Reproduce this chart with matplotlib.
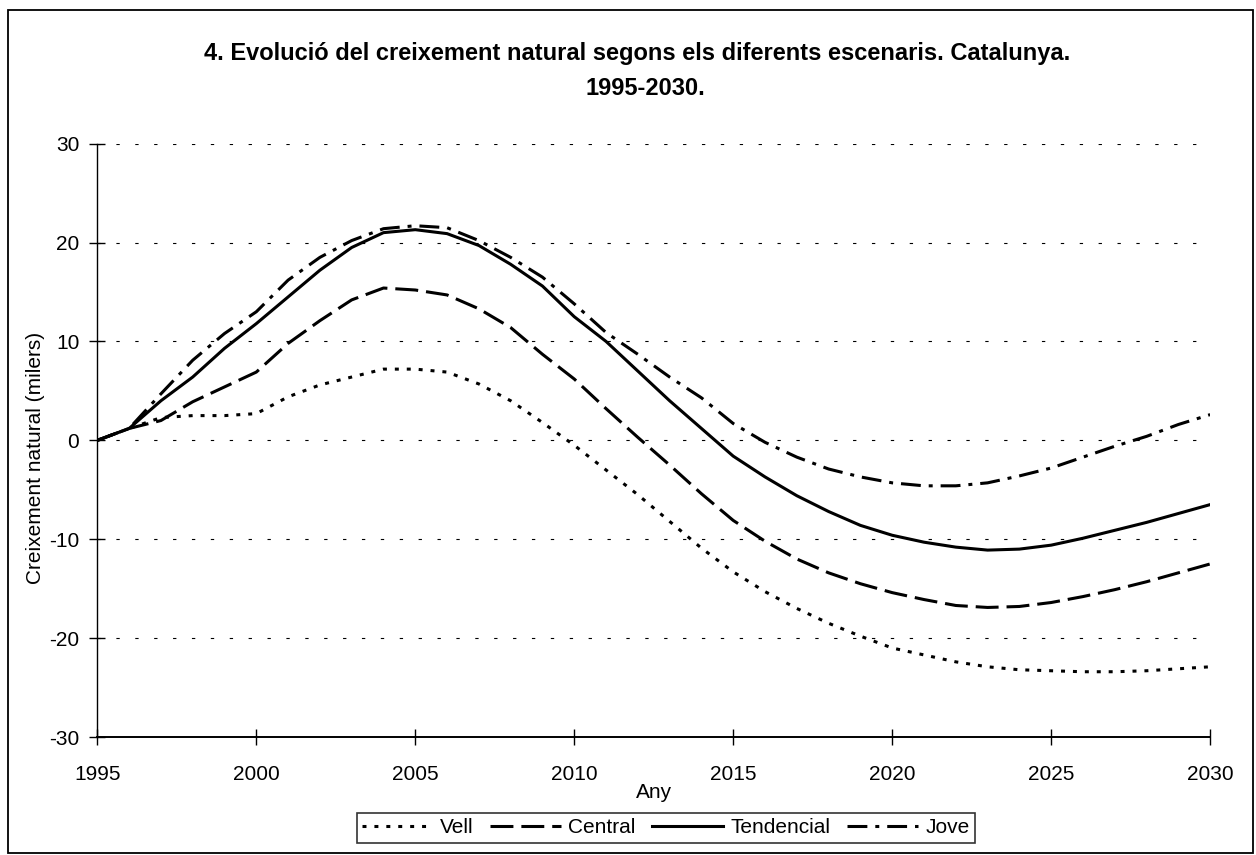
import numpy as np
import matplotlib
matplotlib.use("Agg")
import matplotlib.pyplot as plt
from matplotlib.patches import Rectangle

plt.rcParams['font.family'] = ['Liberation Sans', 'DejaVu Sans']
plt.rcParams['axes.unicode_minus'] = False

years = list(range(1995, 2031))

vell = [0, 1.2, 2.3, 2.5, 2.5, 2.7, 4.4, 5.6, 6.4, 7.2, 7.2, 6.9, 5.7, 4.0, 1.8,
        -0.5, -3.0, -5.5, -8.2, -10.9, -13.3, -15.3, -17.0, -18.5, -19.8, -21.0,
        -21.7, -22.4, -22.9, -23.2, -23.3, -23.4, -23.4, -23.3, -23.1, -22.9]
central = [0, 1.2, 2.0, 3.9, 5.4, 6.9, 9.8, 12.1, 14.2, 15.4, 15.2, 14.7, 13.3, 11.4, 8.7,
           6.2, 3.2, 0.3, -2.5, -5.4, -8.1, -10.2, -12.0, -13.4, -14.5, -15.4,
           -16.1, -16.7, -16.9, -16.8, -16.4, -15.8, -15.1, -14.3, -13.4, -12.5]
tendencial = [0, 1.2, 4.0, 6.4, 9.3, 11.8, 14.5, 17.2, 19.5, 21.0, 21.3, 20.9, 19.7, 17.8, 15.6,
              12.5, 10.0, 7.0, 4.0, 1.2, -1.6, -3.7, -5.6, -7.2, -8.6, -9.6,
              -10.3, -10.8, -11.1, -11.0, -10.6, -9.9, -9.1, -8.3, -7.4, -6.5]
jove = [0, 1.2, 4.7, 8.1, 10.8, 13.0, 16.2, 18.5, 20.2, 21.4, 21.7, 21.5, 20.2, 18.5, 16.5,
        13.8, 10.9, 8.7, 6.4, 4.3, 1.7, -0.2, -1.7, -2.9, -3.7, -4.3,
        -4.6, -4.6, -4.3, -3.6, -2.8, -1.7, -0.6, 0.4, 1.6, 2.6]

labels = ["Vell", "Central", "Tendencial", "Jove"]

fig = plt.figure(figsize=(12.56, 8.55), dpi=100)
ax = fig.add_axes([0.0775, 0.138, 0.886, 0.694])

# outer frame round the whole chart
fig.patches.append(Rectangle((0.0064, 0.0025), 0.9912, 0.9855, transform=fig.transFigure,
                             fill=False, edgecolor='black', linewidth=1.3))

lw = 2.2
ax.plot(years, vell, color='black', lw=lw, linestyle=(0, (1.3, 2.6)), label=labels[0])
ax.plot(years, central, color='black', lw=lw, linestyle=(0, (7.5, 2.6)), label=labels[1])
ax.plot(years, tendencial, color='black', lw=lw, linestyle='-', label=labels[2])
ax.plot(years, jove, color='black', lw=lw, linestyle=(0, (6.5, 2.6, 1.3, 2.6)), label=labels[3])

ax.set_xlim(1995, 2030)
ax.set_ylim(-30, 30)
ax.set_xticks(range(1995, 2031, 5))
ax.set_yticks(range(-30, 31, 10))

# dotted horizontal grid
for y in range(-20, 31, 10):
    ax.axhline(y, color='black', lw=0.8, linestyle=(0, (3, 14)), zorder=0)

for s in ['top', 'right']:
    ax.spines[s].set_visible(False)
ax.spines['left'].set_linewidth(1.0)
ax.spines['bottom'].set_linewidth(1.4)
ax.tick_params(direction='inout', length=12, width=1.0, labelsize=15)
ax.tick_params(axis='x', pad=14)
ax.tick_params(axis='y', pad=7)

ax.set_ylabel("Creixement natural (milers)", fontsize=15)
ax.yaxis.set_label_coords(-0.047, 0.47)
ax.set_xlabel("Any", fontsize=15)
ax.xaxis.set_label_coords(0.5, -0.078)

fig.text(0.507, 0.938, "4. Evolució del creixement natural segons els diferents escenaris. Catalunya.",
         ha='center', va='center', fontsize=17, fontweight='bold')
fig.text(0.514, 0.897, "1995-2030.", ha='center', va='center', fontsize=17, fontweight='bold')

leg = ax.legend(loc='center', bbox_to_anchor=(0.530, 0.0316), bbox_transform=fig.transFigure,
                ncol=4, frameon=True, fancybox=False, edgecolor='black', fontsize=15,
                handlelength=3.4, handletextpad=0.35, columnspacing=0.8,
                borderpad=0.25, borderaxespad=0)
leg.get_frame().set_linewidth(1.2)

fig.savefig("out.png", dpi=100)
